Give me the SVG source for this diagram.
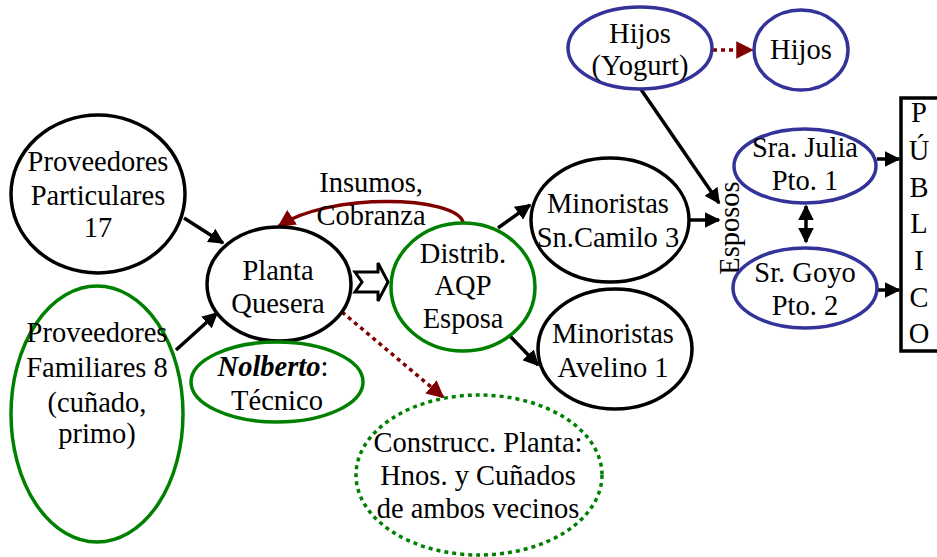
<svg xmlns="http://www.w3.org/2000/svg" width="937" height="557" viewBox="0 0 937 557">
  <style>
    text { font-family: "Liberation Serif", "Times New Roman", "DejaVu Serif", serif; font-size: 28.5px; fill: #000; text-anchor: middle; }
    .node { fill: #fff; stroke-width: 3.5; }
    .k { stroke: #000; }
    .g { stroke: #008000; }
    .b { stroke: #333399; }
    .gd { stroke: #008000; stroke-dasharray: 4 4; }
    .edge { stroke: #000; stroke-width: 3.5; fill: none; }
    .red { stroke: #800000; stroke-width: 3.5; fill: none; }
    .reddot { stroke: #800000; stroke-width: 3.5; fill: none; stroke-dasharray: 4 4; }
  </style>
  <defs>
    <marker id="ah" viewBox="0 0 10 10" refX="9" refY="5" markerWidth="4.5" markerHeight="4.5" markerUnits="strokeWidth" orient="auto-start-reverse">
      <path d="M0,0 L10,5 L0,10 Z" fill="#000"/>
    </marker>
    <marker id="ahr" viewBox="0 0 10 10" refX="9" refY="5" markerWidth="5" markerHeight="5" markerUnits="strokeWidth" orient="auto">
      <path d="M0,0 L10,5 L0,10 Z" fill="#800000"/>
    </marker>
  </defs>

  <!-- connectors -->
  <g id="connectors">
    <line class="edge" x1="184" y1="218" x2="223" y2="243" marker-end="url(#ah)"/>
    <line class="edge" x1="176" y1="350" x2="217" y2="313" marker-end="url(#ah)"/>
    <path class="red" d="M463,222 C455,196 330,192 279,226" marker-end="url(#ahr)"/>
    <path d="M355,272 L378,272 L378,263 L388,282 L378,301 L378,292 L355,292 L362,282 Z" fill="#fff" stroke="#000" stroke-width="3" stroke-linejoin="miter"/>
    <line class="reddot" x1="342" y1="312" x2="443" y2="397" marker-end="url(#ahr)"/>
    <line class="edge" x1="498" y1="228" x2="530" y2="205" marker-end="url(#ah)"/>
    <line class="edge" x1="507" y1="333" x2="538" y2="365" marker-end="url(#ah)"/>
    <line class="edge" x1="689" y1="220" x2="719" y2="220" marker-end="url(#ah)"/>
    <line class="edge" x1="640" y1="88" x2="719" y2="203" marker-end="url(#ah)"/>
    <line class="reddot" x1="713" y1="50" x2="752" y2="50" marker-end="url(#ahr)"/>
    <line class="edge" x1="806" y1="206" x2="806" y2="242" marker-start="url(#ah)" marker-end="url(#ah)"/>
    <line class="edge" x1="877" y1="159" x2="899" y2="159" marker-end="url(#ah)"/>
    <line class="edge" x1="877" y1="290" x2="899" y2="290" marker-end="url(#ah)"/>
    <text x="371" y="192">Insumos,</text>
    <text x="371" y="225">Cobranza</text>
    <text transform="translate(739,228) rotate(-90)">Esposos</text>
  </g>

  <g id="prov-particulares">
    <ellipse class="node k" cx="98" cy="194" rx="87" ry="79"/>
    <text x="98" y="171">Proveedores</text>
    <text x="98" y="205">Particulares</text>
    <text x="98" y="237">17</text>
  </g>

  <g id="prov-familiares">
    <ellipse class="node g" cx="97" cy="414" rx="86" ry="128"/>
    <text x="97" y="342">Proveedores</text>
    <text x="97" y="377">Familiares 8</text>
    <text x="97" y="412">(cuñado,</text>
    <text x="97" y="443">primo)</text>
  </g>

  <g id="planta">
    <ellipse class="node k" cx="279" cy="284" rx="72" ry="57"/>
    <text x="278" y="280">Planta</text>
    <text x="278" y="313">Quesera</text>
  </g>

  <g id="nolberto">
    <ellipse class="node g" cx="277" cy="382" rx="86" ry="40"/>
    <text x="273" y="376"><tspan font-weight="bold" font-style="italic">Nolberto</tspan>:</text>
    <text x="277" y="410">Técnico</text>
  </g>

  <g id="distrib">
    <ellipse class="node g" cx="463" cy="287" rx="72" ry="64"/>
    <text x="463" y="263">Distrib.</text>
    <text x="463" y="295">AQP</text>
    <text x="463" y="328">Esposa</text>
  </g>

  <g id="construcc">
    <ellipse class="node gd" cx="479" cy="475" rx="123" ry="80"/>
    <text x="478" y="452">Construcc. Planta:</text>
    <text x="478" y="485">Hnos. y Cuñados</text>
    <text x="478" y="518">de ambos vecinos</text>
  </g>

  <g id="min-sncamilo">
    <ellipse class="node k" cx="610" cy="220" rx="79" ry="62"/>
    <text x="608" y="213">Minoristas</text>
    <text x="608" y="247">Sn.Camilo 3</text>
  </g>

  <g id="min-avelino">
    <ellipse class="node k" cx="615" cy="349" rx="77" ry="60"/>
    <text x="613" y="343">Minoristas</text>
    <text x="613" y="377">Avelino 1</text>
  </g>

  <g id="hijos-yogurt">
    <ellipse class="node b" cx="640" cy="48" rx="72" ry="41"/>
    <text x="640" y="43">Hijos</text>
    <text x="640" y="75">(Yogurt)</text>
  </g>

  <g id="hijos">
    <ellipse class="node b" cx="801" cy="50" rx="47" ry="40"/>
    <text x="801" y="59">Hijos</text>
  </g>

  <g id="julia">
    <ellipse class="node b" cx="805" cy="166" rx="71" ry="37"/>
    <text x="805" y="157">Sra. Julia</text>
    <text x="805" y="190">Pto. 1</text>
  </g>

  <g id="goyo">
    <ellipse class="node b" cx="805" cy="288" rx="72" ry="40"/>
    <text x="805" y="282">Sr. Goyo</text>
    <text x="805" y="315">Pto. 2</text>
  </g>

  <g id="publico">
    <rect x="901" y="98" width="40" height="253" fill="#fff" stroke="#000" stroke-width="3.5"/>
    <text x="919" y="122">P</text>
    <text x="919" y="160">Ú</text>
    <text x="919" y="197">B</text>
    <text x="919" y="233">L</text>
    <text x="919" y="270">I</text>
    <text x="919" y="307">C</text>
    <text x="919" y="343">O</text>
  </g>
</svg>
